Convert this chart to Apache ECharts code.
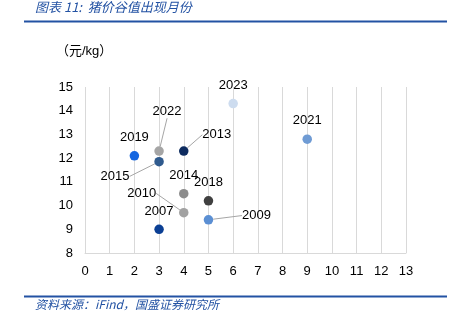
<!DOCTYPE html>
<html>
<head>
<meta charset="utf-8">
<script src="https://cdn.jsdelivr.net/npm/echarts@6/dist/echarts.min.js"></script>
<style>
  html, body { margin: 0; padding: 0; background: #fff; }
  #chart { width: 455px; height: 322px; }
</style>
</head>
<body>
<div id="chart"></div>
<script>
// Month in which the hog price bottomed out each year, and the trough price (元/kg)
const years  = ['2019', '2023', '2021', '2022', '2015', '2013', '2014', '2018', '2010', '2009', '2007'];
const months = [2, 6, 9, 3, 3, 4, 4, 5, 4, 5, 3];
const prices = [12.1, 14.3, 12.8, 12.3, 11.85, 12.3, 10.5, 10.2, 9.7, 9.4, 9.0];
const xTicks = [0, 13];
const yTicks = [8, 15];

// Per-year marker colours
const pointColors = {
  '2019': '#1566e0', '2023': '#cddcef', '2021': '#6f9bd4', '2022': '#a5a5a5',
  '2015': '#2f5a8d', '2013': '#0d2b5f', '2014': '#8c8c8c', '2018': '#404040',
  '2010': '#a2a2a2', '2009': '#5b8fd3', '2007': '#0b3f94'
};
// Labels pulled away from their dot, joined back by a leader line
const labelShift = {
  '2022': [8, -21], '2013': [33, 2], '2015': [-44, 33], '2010': [-42, -1], '2009': [48, 14]
};

const FONT = 'Liberation Sans';
const BLUE = '#2352a3';

const data = years.map((y, i) => ({
  value: [months[i], prices[i]],
  name: y,
  itemStyle: { color: pointColors[y], opacity: 1 },
  labelLine: { show: !!labelShift[y] }
}));

const chart = echarts.init(document.getElementById('chart'), null, { renderer: 'canvas' });
chart.setOption({
  animation: false,
  backgroundColor: '#fff',
  graphic: [
    { type: 'text', left: 35, top: 1, style: { text: '图表 11:  猪价谷值出现月份', fill: BLUE,
      font: 'italic 13px "Noto Sans CJK SC"' } },
    { type: 'rect', shape: { x: 24, y: 20.5, width: 423, height: 2 }, style: { fill: BLUE } },
    { type: 'text', left: 56, top: 45, style: { text: '（元/kg）', fill: '#000',
      font: '13px "Liberation Sans", "Noto Sans CJK SC"' } },
    { type: 'rect', shape: { x: 24, y: 295.5, width: 423, height: 2 }, style: { fill: BLUE } },
    { type: 'text', left: 35, top: 298, style: { text: '资料来源：iFind，国盛证券研究所', fill: BLUE,
      font: 'italic 12px "Noto Sans CJK SC"' } }
  ],
  grid: { left: 85, top: 87, width: 321, height: 166, containLabel: false },
  xAxis: {
    type: 'value', min: xTicks[0], max: xTicks[1], interval: 1,
    axisLine: { show: true, lineStyle: { color: '#d9d9d9', width: 1 } },
    axisTick: { show: false },
    splitLine: { show: true, lineStyle: { color: '#d9d9d9', width: 1 } },
    axisLabel: { color: '#000', fontFamily: FONT, fontSize: 13, margin: 12 }
  },
  yAxis: {
    type: 'value', min: yTicks[0], max: yTicks[1], interval: 1,
    axisLine: { show: false },
    axisTick: { show: false },
    splitLine: { show: false },
    axisLabel: { color: '#000', fontFamily: FONT, fontSize: 13, margin: 12 }
  },
  series: [{
    type: 'scatter',
    symbolSize: 9.5,
    data: data,
    label: {
      show: true, position: 'top', distance: 7,
      formatter: p => p.name,
      color: '#000', fontFamily: FONT, fontSize: 13
    },
    labelLine: { show: false, lineStyle: { color: '#a6a6a6', width: 1 } },
    labelLayout: function (params) {
      const s = labelShift[years[params.dataIndex]];
      return s ? { dx: s[0], dy: s[1] } : {};
    },
    emphasis: { disabled: true }
  }]
});
</script>
</body>
</html>
